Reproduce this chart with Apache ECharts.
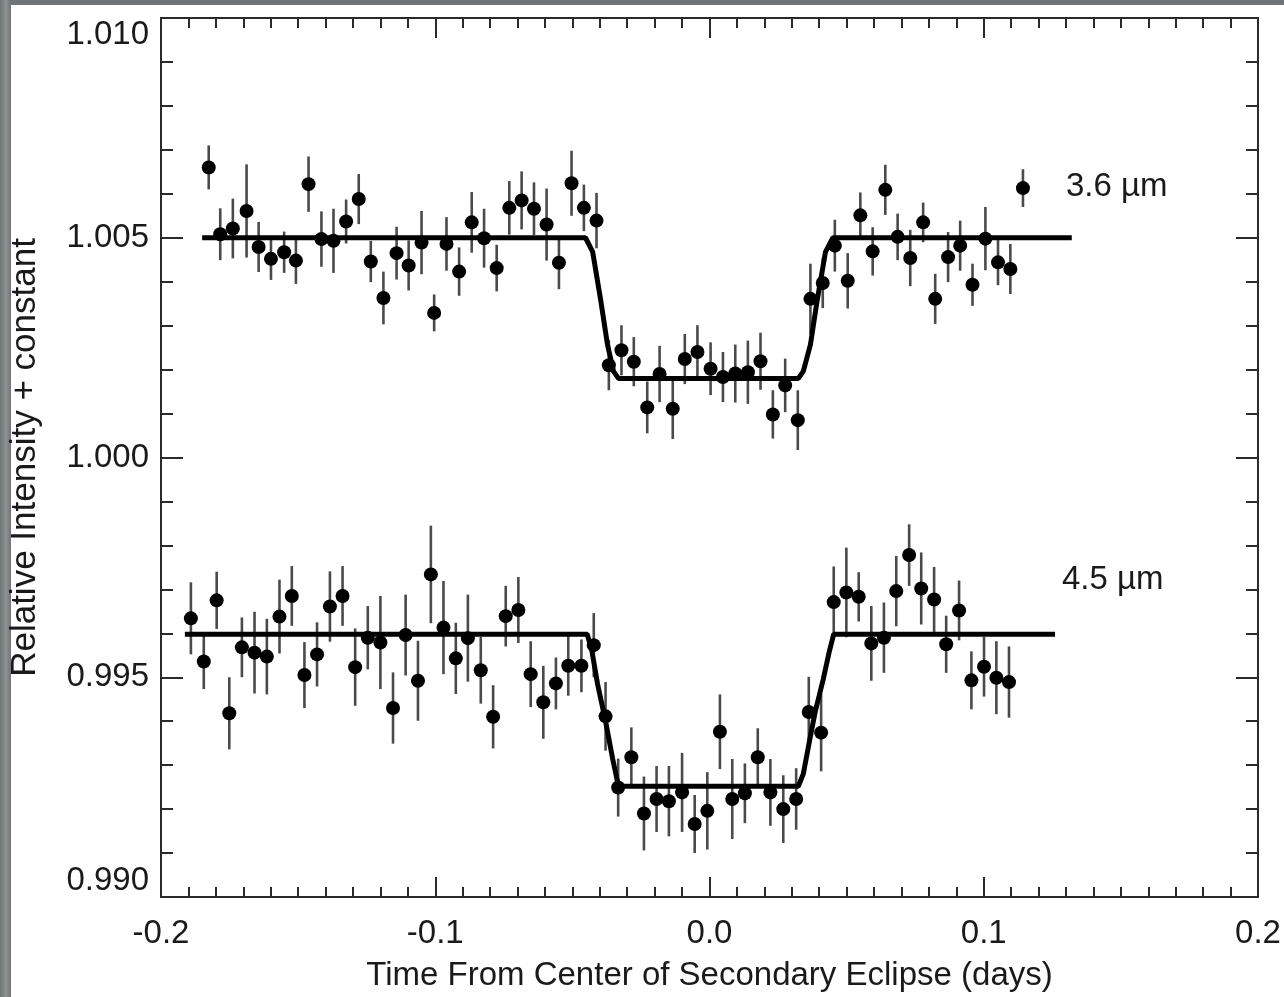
<!DOCTYPE html>
<html>
<head>
<meta charset="utf-8">
<title>Secondary eclipse light curves</title>
<style>
  html, body { margin: 0; padding: 0; }
  body {
    width: 1284px; height: 997px; overflow: hidden; position: relative;
    background: linear-gradient(90deg, #6f7475 0px, #8c9192 6px, #70757a 11px);
  }
  #paper { position: absolute; left: 11px; top: 5px; right: 0; bottom: 0; background: #fff; }
  #chart { position: absolute; left: 0; top: 0; width: 1284px; height: 997px; }
</style>
</head>
<body>
<div id="paper"></div>
<div id="chart"></div>
<script src="https://cdn.jsdelivr.net/npm/echarts@6/dist/echarts.min.js"></script>
<script>
// 3.6 micron points (time in days, relative flux, 1-sigma error)
var t36 = [-0.1826, -0.1784, -0.1738, -0.1688, -0.1644, -0.1599, -0.1551, -0.1508, -0.1462, -0.1415,
  -0.1371, -0.1325, -0.1279, -0.1235, -0.1189, -0.1141, -0.1097, -0.1050, -0.1004, -0.0959,
  -0.0913, -0.0867, -0.0822, -0.0776, -0.0730, -0.0685, -0.0640, -0.0594, -0.0549, -0.0503,
  -0.0458, -0.0412, -0.0367, -0.0321, -0.0276, -0.0227, -0.0182, -0.0134, -0.0090, -0.0044,
  0.0004, 0.0049, 0.0094, 0.0140, 0.0186, 0.0231, 0.0276, 0.0322, 0.0368, 0.0413,
  0.0457, 0.0504, 0.0550, 0.0595, 0.0641, 0.0686, 0.0732, 0.0779, 0.0823, 0.0870,
  0.0914, 0.0959, 0.1006, 0.1052, 0.1097, 0.1143];
var f36 = [1.00660, 1.00508, 1.00521, 1.00561, 1.00479, 1.00452, 1.00467, 1.00448, 1.00622, 1.00497,
  1.00493, 1.00537, 1.00588, 1.00446, 1.00363, 1.00465, 1.00437, 1.00489, 1.00329, 1.00486,
  1.00423, 1.00535, 1.00499, 1.00431, 1.00568, 1.00585, 1.00566, 1.00530, 1.00443, 1.00624,
  1.00568, 1.00539, 1.00210, 1.00244, 1.00218, 1.00114, 1.00190, 1.00111, 1.00224, 1.00240,
  1.00202, 1.00183, 1.00191, 1.00194, 1.00219, 1.00098, 1.00164, 1.00085, 1.00361, 1.00397,
  1.00482, 1.00402, 1.00551, 1.00469, 1.00609, 1.00502, 1.00454, 1.00535, 1.00361, 1.00456,
  1.00482, 1.00393, 1.00498, 1.00444, 1.00429, 1.00613];
var e36 = [0.00050, 0.00059, 0.00068, 0.00106, 0.00057, 0.00048, 0.00047, 0.00053, 0.00063, 0.00063,
  0.00073, 0.00050, 0.00057, 0.00047, 0.00060, 0.00060, 0.00057, 0.00072, 0.00042, 0.00061,
  0.00055, 0.00069, 0.00067, 0.00053, 0.00061, 0.00066, 0.00060, 0.00082, 0.00060, 0.00074,
  0.00053, 0.00063, 0.00057, 0.00057, 0.00056, 0.00059, 0.00064, 0.00069, 0.00057, 0.00061,
  0.00060, 0.00057, 0.00066, 0.00072, 0.00065, 0.00055, 0.00061, 0.00068, 0.00080, 0.00057,
  0.00059, 0.00063, 0.00052, 0.00055, 0.00057, 0.00053, 0.00064, 0.00045, 0.00057, 0.00057,
  0.00057, 0.00048, 0.00072, 0.00052, 0.00057, 0.00043];

// 4.5 micron points
var t45 = [-0.1891, -0.1844, -0.1797, -0.1751, -0.1705, -0.1659, -0.1614, -0.1568, -0.1523, -0.1477,
  -0.1431, -0.1384, -0.1338, -0.1292, -0.1246, -0.1200, -0.1154, -0.1108, -0.1063, -0.1016,
  -0.0970, -0.0925, -0.0881, -0.0834, -0.0789, -0.0743, -0.0697, -0.0652, -0.0606, -0.0560,
  -0.0515, -0.0467, -0.0422, -0.0379, -0.0333, -0.0285, -0.0239, -0.0193, -0.0148, -0.0100,
  -0.0054, -0.0008, 0.0038, 0.0083, 0.0129, 0.0176, 0.0222, 0.0269, 0.0316, 0.0362,
  0.0407, 0.0453, 0.0499, 0.0544, 0.0590, 0.0636, 0.0681, 0.0728, 0.0772, 0.0819,
  0.0863, 0.0910, 0.0955, 0.1001, 0.1046, 0.1092];
var f45 = [0.99634, 0.99536, 0.99675, 0.99418, 0.99568, 0.99556, 0.99547, 0.99638, 0.99685, 0.99505,
  0.99552, 0.99661, 0.99685, 0.99523, 0.99590, 0.99579, 0.99430, 0.99596, 0.99492, 0.99734,
  0.99613, 0.99543, 0.99589, 0.99516, 0.99410, 0.99639, 0.99653, 0.99507, 0.99443, 0.99486,
  0.99526, 0.99526, 0.99573, 0.99411, 0.99249, 0.99318, 0.99190, 0.99223, 0.99218, 0.99238,
  0.99166, 0.99196, 0.99376, 0.99223, 0.99236, 0.99318, 0.99238, 0.99200, 0.99223, 0.99421,
  0.99374, 0.99671, 0.99693, 0.99683, 0.99577, 0.99590, 0.99696, 0.99778, 0.99702, 0.99677,
  0.99575, 0.99652, 0.99493, 0.99524, 0.99499, 0.99489];
var e45 = [0.00082, 0.00063, 0.00065, 0.00082, 0.00068, 0.00093, 0.00086, 0.00084, 0.00068, 0.00075,
  0.00073, 0.00080, 0.00068, 0.00088, 0.00072, 0.00106, 0.00081, 0.00092, 0.00091, 0.00111,
  0.00106, 0.00081, 0.00099, 0.00076, 0.00072, 0.00069, 0.00075, 0.00075, 0.00083, 0.00059,
  0.00068, 0.00060, 0.00073, 0.00078, 0.00066, 0.00068, 0.00084, 0.00075, 0.00080, 0.00090,
  0.00066, 0.00088, 0.00085, 0.00091, 0.00068, 0.00066, 0.00076, 0.00077, 0.00070, 0.00080,
  0.00088, 0.00081, 0.00102, 0.00056, 0.00085, 0.00080, 0.00080, 0.00070, 0.00082, 0.00074,
  0.00065, 0.00068, 0.00066, 0.00068, 0.00083, 0.00081];

// best-fit eclipse models
var modelT36 = [-0.1850, -0.0452, -0.0426, -0.0397, -0.0372, -0.0350, -0.0332,
  0.0324, 0.0342, 0.0368, 0.0393, 0.0423, 0.0450, 0.1321];
var modelF36 = [1.00500, 1.00500, 1.00468, 1.00359, 1.00257, 1.00196, 1.00180,
  1.00180, 1.00196, 1.00257, 1.00359, 1.00468, 1.00500, 1.00500];
var modelT45 = [-0.1913, -0.0446, -0.0430, -0.0408, -0.0379, -0.0353, -0.0332,
  0.0324, 0.0342, 0.0368, 0.0386, 0.0415, 0.0437, 0.0453, 0.1260];
var modelF45 = [0.99598, 0.99598, 0.99564, 0.99484, 0.99400, 0.99314, 0.99252,
  0.99252, 0.99280, 0.99366, 0.99423, 0.99496, 0.99559, 0.99598, 0.99598];

var xTicks = [-0.2, -0.1, 0.0, 0.1, 0.2];
var yTicks = [0.990, 0.995, 1.000, 1.005, 1.010];
var bandLabels = ['3.6 µm', '4.5 µm'];

function pairs(a, b) {
  return a.map(function (v, i) { return [v, b[i]]; });
}
function bars(t, f, e) {
  return t.map(function (v, i) { return [v, f[i] - e[i], f[i] + e[i]]; });
}

function renderBar(params, api) {
  var x = api.value(0);
  var lo = api.coord([x, api.value(1)]);
  var hi = api.coord([x, api.value(2)]);
  return {
    type: 'line',
    shape: { x1: lo[0], y1: lo[1], x2: hi[0], y2: hi[1] },
    style: { stroke: '#4a4a4a', lineWidth: 2.6 }
  };
}

var font = '"Liberation Sans", Arial, Helvetica, sans-serif';
var axisCol = '#2a2a2a';

var chart = echarts.init(document.getElementById('chart'));

function frameAxis(extra) {
  var base = {
    axisLine: { show: true, onZero: false, lineStyle: { color: axisCol, width: 2 } },
    axisTick: { show: true, inside: true, length: 20, lineStyle: { color: axisCol, width: 2 } },
    minorTick: { show: true, length: 10, lineStyle: { color: axisCol, width: 2 } },
    splitLine: { show: false },
    minorSplitLine: { show: false }
  };
  return Object.assign(base, extra);
}

var option = {
  backgroundColor: 'transparent',
  animation: false,
  grid: { left: 160, top: 18, right: 26, bottom: 99 },
  xAxis: [
    frameAxis({
      type: 'value', position: 'bottom',
      min: xTicks[0], max: xTicks[xTicks.length - 1], interval: 0.1,
      minorTick: { show: true, splitNumber: 10, length: 10, lineStyle: { color: axisCol, width: 2 } },
      axisLabel: {
        margin: 20, color: '#1a1a1a', fontSize: 33, fontFamily: font,
        formatter: function (v) { return v.toFixed(1); }
      },
      name: 'Time From Center of Secondary Eclipse (days)',
      nameLocation: 'middle', nameGap: 62,
      nameTextStyle: { color: '#1a1a1a', fontSize: 33, fontFamily: font }
    }),
    frameAxis({
      type: 'value', position: 'top',
      min: xTicks[0], max: xTicks[xTicks.length - 1], interval: 0.1,
      minorTick: { show: true, splitNumber: 10, length: 10, lineStyle: { color: axisCol, width: 2 } },
      axisLabel: { show: false }
    })
  ],
  yAxis: [
    frameAxis({
      type: 'value', position: 'left',
      min: yTicks[0], max: yTicks[yTicks.length - 1], interval: 0.005,
      minorTick: { show: true, splitNumber: 5, length: 12, lineStyle: { color: axisCol, width: 2 } },
      axisTick: { show: true, inside: true, length: 22, lineStyle: { color: axisCol, width: 2 } },
      axisLabel: {
        margin: 12, color: '#1a1a1a', fontSize: 33, fontFamily: font,
        verticalAlignMinLabel: 'bottom', verticalAlignMaxLabel: 'top',
        formatter: function (v) { return v.toFixed(3); }
      },
      name: 'Relative Intensity + constant',
      nameLocation: 'middle', nameGap: 118, nameRotate: 90,
      nameTextStyle: { color: '#1a1a1a', fontSize: 35, fontFamily: font }
    }),
    frameAxis({
      type: 'value', position: 'right',
      min: yTicks[0], max: yTicks[yTicks.length - 1], interval: 0.005,
      minorTick: { show: true, splitNumber: 5, length: 12, lineStyle: { color: axisCol, width: 2 } },
      axisTick: { show: true, inside: true, length: 22, lineStyle: { color: axisCol, width: 2 } },
      axisLabel: { show: false }
    })
  ],
  series: [
    {
      type: 'custom', name: 'err36', renderItem: renderBar,
      encode: { x: 0, y: [1, 2] }, data: bars(t36, f36, e36), z: 1
    },
    {
      type: 'custom', name: 'err45', renderItem: renderBar,
      encode: { x: 0, y: [1, 2] }, data: bars(t45, f45, e45), z: 1
    },
    {
      type: 'line', name: 'model36', data: pairs(modelT36, modelF36),
      symbol: 'none', lineStyle: { color: '#000', width: 5 }, z: 2
    },
    {
      type: 'line', name: 'model45', data: pairs(modelT45, modelF45),
      symbol: 'none', lineStyle: { color: '#000', width: 5 }, z: 2
    },
    {
      type: 'scatter', name: bandLabels[0], data: pairs(t36, f36),
      symbolSize: 14, itemStyle: { color: '#000', opacity: 1 }, z: 3
    },
    {
      type: 'scatter', name: bandLabels[1], data: pairs(t45, f45),
      symbolSize: 14, itemStyle: { color: '#000', opacity: 1 }, z: 3
    }
  ],
  graphic: [
    {
      type: 'text', left: 1066, top: 170, z: 10,
      style: { text: bandLabels[0], fill: '#1a1a1a', font: '33px ' + font }
    },
    {
      type: 'text', left: 1062, top: 563, z: 10,
      style: { text: bandLabels[1], fill: '#1a1a1a', font: '33px ' + font }
    }
  ]
};

chart.setOption(option);
</script>
</body>
</html>
